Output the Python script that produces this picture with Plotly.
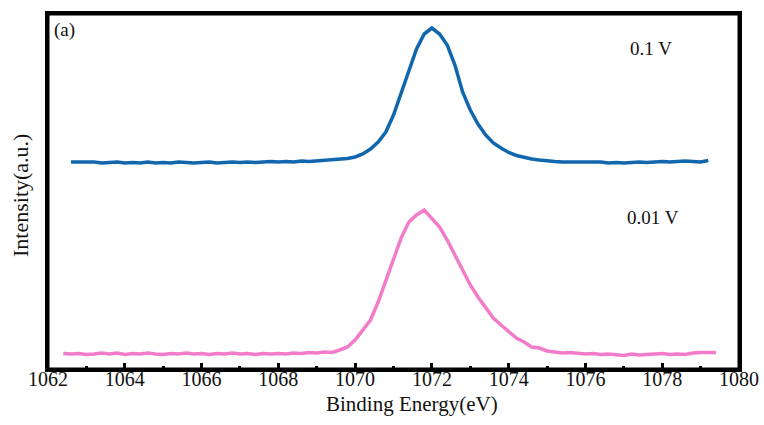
import numpy as np
import plotly.graph_objects as go

# ---- data ----
blue_label = "0.1 V"
pink_label = "0.01 V"
x_title = "Binding Energy(eV)"
y_title = "Intensity(a.u.)"

blue_x_start, blue_step = 1062.6, 0.2
blue_y = [207, 207, 206.5, 207, 206, 206.5, 207, 206, 206.5, 206,
          207, 206, 206.5, 206, 207, 206.5, 206, 206.5, 207, 206,
          206.5, 207, 206.5, 207, 206.5, 207, 207.5, 207, 207.5, 207,
          208, 207.5, 208, 208.5, 209, 209.5, 210.5, 212, 215, 220,
          227, 237, 254, 276, 297, 320, 335, 341, 335, 324,
          304, 277, 259, 245, 234, 226, 221, 216.5, 213.5, 211.5,
          210, 209, 208, 207.5, 207, 207, 206.5, 207, 206.5, 207,
          206, 206.5, 206, 206.5, 207, 206.5, 207, 207.5, 207, 207.5,
          208, 207.5, 207, 208.5]

pink_x_start, pink_step = 1062.4, 0.2
pink_y = [15.5, 15, 15.5, 14.5, 15, 16, 15, 16, 14.5, 15.5,
          15, 16, 15, 14.5, 15.5, 15, 16, 15, 15.5, 14.5,
          15.5, 15, 16, 15, 15.5, 14.5, 15.5, 15, 15.5, 15,
          16, 15.5, 16.5, 16, 17, 16.5, 19, 22, 29, 39,
          49, 67, 89, 111, 131, 147, 154, 159, 151, 142,
          129, 114, 99, 84, 72, 62, 51, 44, 37, 31,
          27, 22, 21, 18, 17, 16, 16.5, 15.5, 15, 15.5,
          14.5, 15, 14, 13.5, 15, 14, 14.5, 15, 15.5, 14.5,
          15, 14.5, 16, 16.5, 16.5, 16.5]

x_tick_vals = [1062, 1064, 1066, 1068, 1070, 1072, 1074, 1076, 1078, 1080]
x_tick_text = ["1062", "1064", "1066", "1068", "1070", "1072", "1074", "1076", "1078", "1080"]

blue_x = np.round(blue_x_start + blue_step * np.arange(len(blue_y)), 2)
pink_x = np.round(pink_x_start + pink_step * np.arange(len(pink_y)), 2)

FONT = "Liberation Serif"
BLUE = "#1067ad"
PINK = "#f27cc9"
TXT = "#111111"

W, H = 764, 425
L, R, T, B = 48, 25, 14, 56
pw, ph = W - L - R, H - T - B


def px_to_paper(px, py):
    return (px - L) / pw, ((H - py) - B) / ph


fig = go.Figure()
fig.add_trace(go.Scatter(x=blue_x, y=blue_y, mode="lines",
                         line=dict(color=BLUE, width=3.5),
                         name=blue_label, showlegend=False))
fig.add_trace(go.Scatter(x=pink_x, y=pink_y, mode="lines",
                         line=dict(color=PINK, width=3.5),
                         name=pink_label, showlegend=False))

fig.add_annotation(x=1077.7, y=321, xref="x", yref="y", text=blue_label,
                   showarrow=False, font=dict(family=FONT, size=19, color=TXT))
fig.add_annotation(x=1077.77, y=152, xref="x", yref="y", text=pink_label,
                   showarrow=False, font=dict(family=FONT, size=19, color=TXT))
fig.add_annotation(x=1062.1, y=339, xref="x", yref="y", text="(a)", xanchor="left",
                   showarrow=False, font=dict(family=FONT, size=19, color=TXT))

# axis titles placed just outside the plot area (paper coordinates)
xt_x, xt_y = px_to_paper(412, 404)
fig.add_annotation(x=xt_x, y=xt_y, xref="paper", yref="paper", text=x_title,
                   xanchor="center", yanchor="middle", showarrow=False, borderpad=0,
                   font=dict(family=FONT, size=21, color=TXT))
yt_x, yt_y = px_to_paper(20, 196)
fig.add_annotation(x=yt_x, y=yt_y, xref="paper", yref="paper", text=y_title,
                   xanchor="center", yanchor="middle", showarrow=False, textangle=-90,
                   font=dict(family=FONT, size=22, color=TXT))

# plot frame
fig.add_shape(type="rect", xref="paper", yref="paper", x0=0, x1=1, y0=0, y1=1,
              line=dict(color="black", width=3), layer="above")

fig.update_layout(
    template="none",
    width=W, height=H,
    margin=dict(l=L, r=R, t=T, b=B, autoexpand=False),
    paper_bgcolor="white", plot_bgcolor="white",
    font=dict(family=FONT, size=20, color=TXT),
    xaxis=dict(
        range=[1062, 1080], tickvals=x_tick_vals, ticktext=x_tick_text,
        ticks="inside", ticklen=6, tickwidth=2.5, tickcolor="black",
        minor=dict(dtick=1, ticks="inside", ticklen=3, tickwidth=2.5, tickcolor="black"),
        showline=True, linewidth=3, linecolor="black", mirror=True,
        showgrid=False, zeroline=False, automargin=False,
        ticklabelstandoff=-10,
        tickfont=dict(family=FONT, size=20, color=TXT),
    ),
    yaxis=dict(
        range=[0, 355], showticklabels=False, ticks="",
        showline=True, linewidth=3, linecolor="black", mirror=True,
        showgrid=False, zeroline=False, automargin=False,
    ),
)

fig.write_html("out.html")
